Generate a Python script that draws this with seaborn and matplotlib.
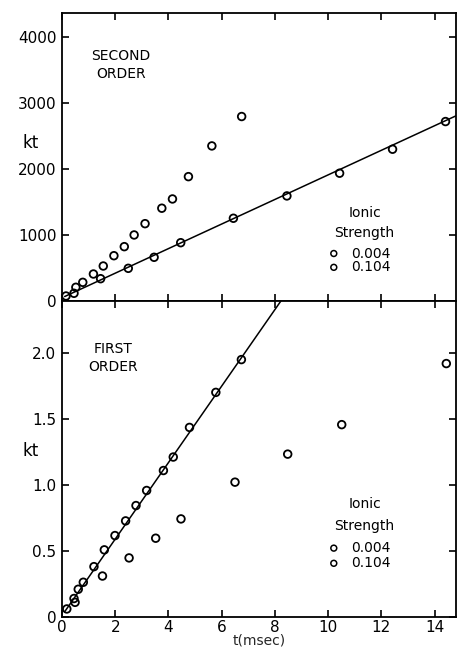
import matplotlib
matplotlib.use("Agg")
import matplotlib.pyplot as plt
import seaborn as sns
import pandas as pd

#####################################################################
# Data
#####################################################################
# second order panel
so_t_low = [0.15, 0.45, 1.45, 2.49, 3.46, 4.46, 6.44, 8.45, 10.43, 12.42, 14.41]
so_kt_low = [76, 117, 338, 495, 662, 883, 1253, 1591, 1935, 2298, 2717]
so_t_high = [0.52, 0.78, 1.18, 1.55, 1.95, 2.34, 2.71, 3.12, 3.75, 4.15, 4.75, 5.63, 6.75]
so_kt_high = [208, 283, 409, 530, 686, 823, 1000, 1171, 1405, 1545, 1883, 2348, 2793]
so_fit_t = [0.1, 15.0]
so_fit_kt = [68, 2840]

# first order panel
fo_t_line = [0.18, 0.45, 0.61, 0.80, 1.20, 1.59, 1.99, 2.39, 2.78, 3.18, 3.81, 4.18, 4.79, 5.78, 6.74]
fo_kt_line = [0.061, 0.14, 0.21, 0.263, 0.381, 0.508, 0.616, 0.727, 0.843, 0.957, 1.108, 1.21, 1.434, 1.699, 1.947]
fo_t_other = [0.49, 1.52, 2.52, 3.52, 4.47, 6.50, 8.48, 10.51, 14.44]
fo_kt_other = [0.111, 0.31, 0.447, 0.596, 0.742, 1.02, 1.232, 1.455, 1.917]
fo_fit_t = [0.1, 8.5]
fo_fit_kt = [0.04, 2.47]

ionic = ["0.004", "0.104"]
so_yticks = [0, 1000, 2000, 3000, 4000]
fo_yticks = [0, 0.5, 1.0, 1.5, 2.0]
fo_yticklabels = ["0", "0.5", "1.0", "1.5", "2.0"]
xticks = [0, 2, 4, 6, 8, 10, 12, 14]

#####################################################################
# Plot
#####################################################################
sns.set_style("ticks")
plt.rcParams['font.family'] = ['DejaVu Sans']
plt.rcParams['text.color'] = 'black'

fig = plt.figure(figsize=(4.58, 6.51), dpi=100)
ax1 = fig.add_axes([0.1354, 0.5376, 0.860, 0.4424])
ax2 = fig.add_axes([0.1354, 0.0522, 0.860, 0.4854])

mk = dict(marker='o', facecolor='none', edgecolor='black', linewidth=1.3, s=30, zorder=3)


def style_axis(ax):
    for s in ax.spines.values():
        s.set_color('black')
        s.set_linewidth(1.3)
    ax.tick_params(direction='in', length=5, width=1.2, colors='black',
                   top=True, right=True, labelsize=11, pad=4)


# second order
d_low = pd.DataFrame({'t': so_t_low, 'kt': so_kt_low})
d_high = pd.DataFrame({'t': so_t_high, 'kt': so_kt_high})
sns.lineplot(x=so_fit_t, y=so_fit_kt, ax=ax1, color='black', lw=1.1)
sns.scatterplot(data=d_low, x='t', y='kt', ax=ax1, **mk)
sns.scatterplot(data=d_high, x='t', y='kt', ax=ax1, **mk)
ax1.set_xlim(0, 14.8)
ax1.set_ylim(0, 4360)
ax1.set_yticks(so_yticks)
ax1.set_xticks(xticks)
ax1.set_xticklabels([])
ax1.set_xlabel('')
ax1.set_ylabel('')
style_axis(ax1)
ax1.text(0.15, 0.82, "SECOND\nORDER", transform=ax1.transAxes, ha='center', va='center',
         fontsize=10, linespacing=1.4)
ax1.text(-0.08, 0.55, "kt", transform=ax1.transAxes, ha='center', va='center', fontsize=12)

# first order
e_line = pd.DataFrame({'t': fo_t_line, 'kt': fo_kt_line})
e_other = pd.DataFrame({'t': fo_t_other, 'kt': fo_kt_other})
sns.lineplot(x=fo_fit_t, y=fo_fit_kt, ax=ax2, color='black', lw=1.1)
sns.scatterplot(data=e_line, x='t', y='kt', ax=ax2, **mk)
sns.scatterplot(data=e_other, x='t', y='kt', ax=ax2, **mk)
ax2.set_xlim(0, 14.8)
ax2.set_ylim(0, 2.39)
ax2.set_yticks(fo_yticks)
ax2.set_yticklabels(fo_yticklabels)
ax2.set_xticks(xticks)
ax2.set_xlabel("t(msec)", fontsize=10, labelpad=-1)
ax2.set_ylabel('')
style_axis(ax2)
ax2.tick_params(axis='x', pad=2)
ax2.text(0.13, 0.82, "FIRST\nORDER", transform=ax2.transAxes, ha='center', va='center',
         fontsize=10, linespacing=1.4)
ax2.text(-0.08, 0.525, "kt", transform=ax2.transAxes, ha='center', va='center', fontsize=12)

# legends (text blocks)
for ax, y0 in [(ax1, 0.305), (ax2, 0.358)]:
    ax.text(0.768, y0, "Ionic", transform=ax.transAxes, ha='center', va='center', fontsize=10)
    ax.text(0.768, y0 - 0.07, "Strength", transform=ax.transAxes, ha='center', va='center', fontsize=10)
    for i, lab in enumerate(ionic):
        yy = y0 - 0.14 - i * 0.048
        ax.scatter([0.69], [yy], transform=ax.transAxes, marker='o', s=18,
                   facecolor='none', edgecolor='black', linewidth=1.1)
        ax.text(0.735, yy, lab, transform=ax.transAxes, ha='left', va='center', fontsize=10)

fig.savefig("out.png", dpi=100)
